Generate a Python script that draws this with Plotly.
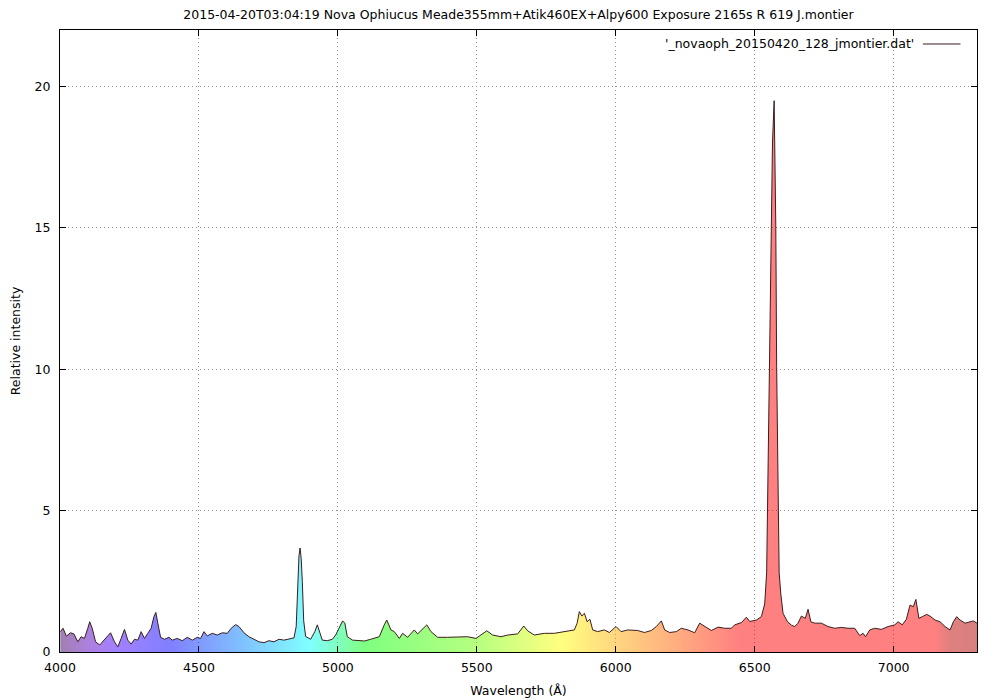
import plotly.graph_objects as go

# ---- data ----
wavelength = [
    4001, 4011, 4023, 4038, 4050, 4064, 4076, 4088, 4100, 4107, 4116, 4128, 4143, 4158,
    4172, 4182, 4196, 4208, 4220, 4232, 4244, 4256, 4268, 4280, 4292, 4304, 4316, 4328,
    4338, 4345, 4352, 4362, 4376, 4392, 4404, 4422, 4440, 4458, 4476, 4494, 4506, 4518,
    4530, 4548, 4566, 4584, 4602, 4616, 4632, 4644, 4662, 4680, 4698, 4716, 4734, 4752,
    4770, 4788, 4806, 4824, 4842, 4850, 4853, 4857, 4860, 4864, 4868, 4872, 4877, 4884,
    4902, 4917, 4926, 4936, 4944, 4962, 4980, 4992, 5005, 5017, 5025, 5034, 5053, 5077,
    5096, 5118, 5149, 5167, 5176, 5191, 5203, 5221, 5233, 5251, 5275, 5287, 5305, 5320,
    5335, 5359, 5395, 5431, 5467, 5497, 5521, 5536, 5557, 5587, 5611, 5647, 5669, 5683,
    5707, 5743, 5779, 5815, 5851, 5861, 5869, 5878, 5887, 5897, 5907, 5917, 5935, 5959,
    5977, 6001, 6019, 6043, 6079, 6103, 6128, 6146, 6164, 6176, 6194, 6218, 6236, 6260,
    6284, 6302, 6320, 6344, 6368, 6392, 6416, 6428, 6452, 6470, 6482, 6506, 6524, 6536,
    6543, 6546, 6553, 6558, 6564, 6570, 6576, 6579, 6584, 6588, 6594, 6602, 6618, 6632,
    6644, 6656, 6668, 6682, 6692, 6702, 6716, 6740, 6764, 6788, 6812, 6836, 6860, 6878,
    6890, 6899, 6914, 6932, 6956, 6980, 7004, 7016, 7031, 7046, 7059, 7071, 7080, 7091,
    7103, 7119, 7131, 7149, 7167, 7185, 7203, 7215, 7227, 7239, 7257, 7275, 7287, 7300,
]
intensity = [
    0.72, 0.84, 0.56, 0.68, 0.64, 0.36, 0.54, 0.48, 0.84, 1.07, 0.84, 0.36, 0.25, 0.42,
    0.60, 0.68, 0.36, 0.18, 0.48, 0.80, 0.42, 0.28, 0.45, 0.42, 0.72, 0.48, 0.66, 0.84,
    1.25, 1.40, 1.02, 0.52, 0.45, 0.52, 0.42, 0.48, 0.40, 0.52, 0.42, 0.52, 0.48, 0.72,
    0.57, 0.66, 0.60, 0.68, 0.66, 0.84, 0.97, 0.90, 0.68, 0.54, 0.45, 0.36, 0.33, 0.40,
    0.36, 0.45, 0.42, 0.45, 0.50, 0.90, 1.90, 2.70, 3.40, 3.68, 3.30, 2.50, 1.10, 0.55,
    0.45, 0.72, 0.96, 0.66, 0.42, 0.40, 0.45, 0.60, 0.84, 1.10, 1.02, 0.54, 0.42, 0.40,
    0.39, 0.45, 0.54, 0.96, 1.13, 0.78, 0.72, 0.48, 0.66, 0.52, 0.78, 0.64, 0.80, 0.96,
    0.72, 0.52, 0.52, 0.52, 0.54, 0.48, 0.64, 0.75, 0.60, 0.54, 0.60, 0.64, 0.92, 0.75,
    0.60, 0.66, 0.66, 0.72, 0.78, 1.02, 1.43, 1.27, 1.37, 1.07, 1.16, 0.78, 0.72, 0.78,
    0.69, 0.90, 0.72, 0.78, 0.76, 0.69, 0.76, 0.90, 1.10, 0.78, 0.69, 0.72, 0.84, 0.78,
    0.68, 1.02, 0.90, 0.76, 0.88, 0.84, 0.84, 0.96, 1.04, 1.23, 1.08, 1.13, 1.25, 1.70,
    2.80, 5.10, 10.1, 15.0, 18.0, 19.5, 15.0, 10.1, 5.10, 2.80, 2.05, 1.37, 1.07, 0.95,
    0.90, 1.02, 1.27, 1.19, 1.51, 1.07, 1.02, 1.02, 0.90, 0.84, 0.87, 0.84, 0.84, 0.58,
    0.66, 0.54, 0.78, 0.84, 0.80, 0.90, 0.96, 1.07, 0.96, 1.16, 1.66, 1.60, 1.86, 1.19,
    1.25, 1.33, 1.27, 1.13, 1.07, 0.90, 0.78, 1.07, 1.25, 1.13, 1.02, 1.07, 1.10, 1.02,
]

# spectral colours (drawn at 50% opacity) by wavelength
color_wavelengths = [4000, 4100, 4200, 4400, 4500, 4700, 4900, 5000, 5100, 5500, 5800,
                     6000, 6200, 6450, 7150, 7200, 7300]
color_values = ["rgba(64,0,96,0.5)", "rgba(90,0,190,0.5)", "rgba(70,0,255,0.5)",
                "rgba(0,0,255,0.5)", "rgba(0,51,255,0.5)", "rgba(0,153,255,0.5)",
                "rgba(0,255,255,0.5)", "rgba(0,255,127,0.5)", "rgba(0,255,0,0.5)",
                "rgba(109,255,0,0.5)", "rgba(255,255,0,0.5)", "rgba(255,173,0,0.5)",
                "rgba(255,98,0,0.5)", "rgba(255,0,0,0.5)", "rgba(255,0,0,0.5)",
                "rgba(192,0,0,0.5)", "rgba(176,0,0,0.5)"]

x_ticks = [4000, 4500, 5000, 5500, 6000, 6500, 7000]
y_ticks = [0, 5, 10, 15, 20]

title_text = ("2015-04-20T03:04:19 Nova Ophiucus Meade355mm+Atik460EX+Alpy600 "
              "Exposure 2165s R 619 J.montier")
series_name = "'_novaoph_20150420_128_jmontier.dat'"

xmin, xmax = 4000, 7300
colorscale = [[(w - xmin) / (xmax - xmin), c] for w, c in zip(color_wavelengths, color_values)]

FONT = "DejaVu Sans, Verdana, sans-serif"
LINE_COLOR = "#3a1e1e"

fig = go.Figure()
fig.add_trace(go.Scatter(
    x=wavelength, y=intensity, mode="lines", name=series_name,
    line=dict(color=LINE_COLOR, width=1),
    fill="tozeroy",
    fillgradient=dict(type="horizontal", colorscale=colorscale, start=xmin, stop=xmax),
    showlegend=False,
))

axis_common = dict(
    showline=True, linecolor="black", linewidth=1, mirror="allticks",
    ticks="inside", ticklen=6, tickcolor="black", tickwidth=1,
    showgrid=True, gridcolor="#909090", griddash="1px,3px", gridwidth=1,
    zeroline=False, tickfont=dict(family=FONT, size=12.5, color="black"),
    automargin=False,
)

fig.update_xaxes(range=[xmin, xmax], tickvals=x_ticks, ticklabelstandoff=4,
                 title=dict(text="Wavelength (Å)", font=dict(family=FONT, size=12.5, color="black"),
                            standoff=12),
                 **axis_common)
fig.update_yaxes(range=[0, 22], tickvals=y_ticks, ticklabelstandoff=6,
                 title=dict(text="Relative intensity", font=dict(family=FONT, size=12.5, color="black"),
                            standoff=14),
                 **axis_common)

# gnuplot-style key: text followed by a line sample (top right)
fig.add_annotation(xref="paper", yref="paper", x=0.933, y=0.9775, xanchor="right",
                   yanchor="middle", text=series_name, showarrow=False,
                   font=dict(family=FONT, size=12.5, color="black"))
fig.add_shape(type="line", xref="paper", yref="paper", x0=0.941, x1=0.982,
              y0=0.9775, y1=0.9775, line=dict(color=LINE_COLOR, width=1))

fig.update_layout(
    width=1000, height=700,
    margin=dict(l=52, r=31, t=22, b=56, autoexpand=False),
    paper_bgcolor="white", plot_bgcolor="white",
    title=dict(text=title_text, xref="paper", x=0.5, xanchor="center", y=0.99, yanchor="middle",
               font=dict(family=FONT, size=12.5, color="black"), automargin=False),
    font=dict(family=FONT, size=12.5, color="black"),
)

fig.write_html("out.html")
